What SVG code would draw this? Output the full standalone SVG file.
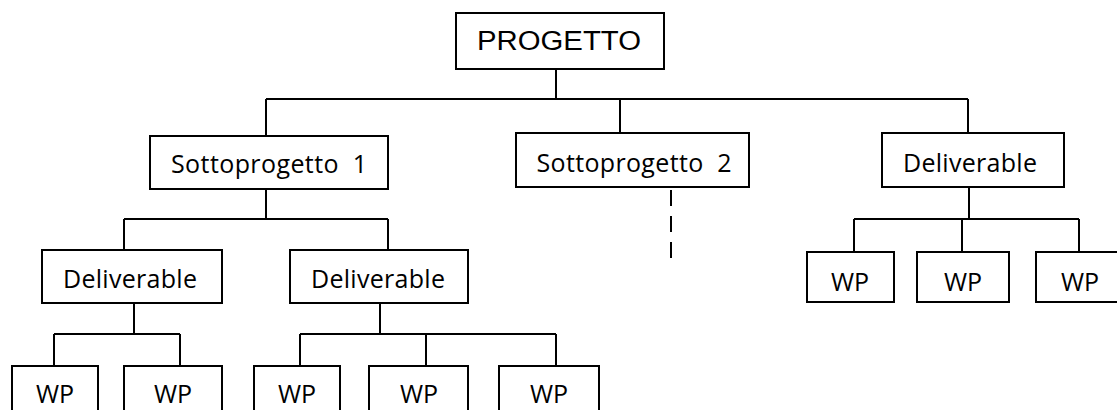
<svg xmlns="http://www.w3.org/2000/svg" width="1117" height="410" viewBox="0 0 1117 410">
  <style>
    .box { fill: #ffffff; stroke: #000000; stroke-width: 2; }
    .lbl { font-family: "Open Sans", "Noto Sans", sans-serif; font-size: 25px; fill: #000000; text-anchor: middle; }
    .root { font-family: "Liberation Sans", Arial, sans-serif; font-size: 27px; fill: #000000; text-anchor: middle; }
    .wire { fill: none; stroke: #000000; stroke-width: 2; }
    .dash { stroke-dasharray: 16 10; }
  </style>

  <!-- connectors -->
  <g id="connectors">
    <path class="wire" d="M556 69V99M266 99H968M266 99V136M620 99V133M968 99V133"/>
    <path class="wire" d="M266 189V219M124 219H388M124 219V250M388 219V250"/>
    <path class="wire" d="M134 303V334M54 334H180M54 334V366M180 334V366"/>
    <path class="wire" d="M380 303V334M300 334H556M300 334V366M426 334V366M556 334V366"/>
    <path class="wire" d="M969 187V219M854 219H1079M854 219V252M962 219V252M1079 219V252"/>
    <path class="wire dash" d="M671 190V258"/>
  </g>

  <g id="progetto">
    <rect class="box" x="456" y="13" width="208" height="56"/>
    <text class="root" x="559" y="50" textLength="164" lengthAdjust="spacingAndGlyphs">PROGETTO</text>
  </g>

  <g id="sottoprogetto1">
    <rect class="box" x="150" y="136" width="238" height="53"/>
    <text class="lbl" x="269" y="173" textLength="196" xml:space="preserve">Sottoprogetto  1</text>
  </g>

  <g id="sottoprogetto2">
    <rect class="box" x="516" y="133" width="233" height="54"/>
    <text class="lbl" x="634" y="172" textLength="195" xml:space="preserve">Sottoprogetto  2</text>
  </g>

  <g id="deliverable-top">
    <rect class="box" x="882" y="133" width="182" height="54"/>
    <text class="lbl" x="970" y="172" textLength="134">Deliverable</text>
  </g>

  <g id="deliverable-left">
    <rect class="box" x="42" y="250" width="180" height="53"/>
    <text class="lbl" x="130" y="288" textLength="134">Deliverable</text>
  </g>

  <g id="deliverable-mid">
    <rect class="box" x="290" y="250" width="178" height="53"/>
    <text class="lbl" x="378" y="288" textLength="134">Deliverable</text>
  </g>

  <g id="wp-1">
    <rect class="box" x="12" y="366" width="86" height="60"/>
    <text class="lbl" x="55" y="403">WP</text>
  </g>
  <g id="wp-2">
    <rect class="box" x="124" y="366" width="98" height="60"/>
    <text class="lbl" x="173" y="403">WP</text>
  </g>
  <g id="wp-3">
    <rect class="box" x="254" y="366" width="86" height="60"/>
    <text class="lbl" x="297" y="403">WP</text>
  </g>
  <g id="wp-4">
    <rect class="box" x="369" y="366" width="99" height="60"/>
    <text class="lbl" x="419" y="403">WP</text>
  </g>
  <g id="wp-5">
    <rect class="box" x="499" y="366" width="100" height="60"/>
    <text class="lbl" x="549" y="403">WP</text>
  </g>

  <g id="wp-6">
    <rect class="box" x="807" y="252" width="87" height="50"/>
    <text class="lbl" x="850" y="291">WP</text>
  </g>
  <g id="wp-7">
    <rect class="box" x="917" y="252" width="92" height="50"/>
    <text class="lbl" x="963" y="291">WP</text>
  </g>
  <g id="wp-8">
    <rect class="box" x="1036" y="252" width="88" height="50"/>
    <text class="lbl" x="1080" y="291">WP</text>
  </g>
</svg>
